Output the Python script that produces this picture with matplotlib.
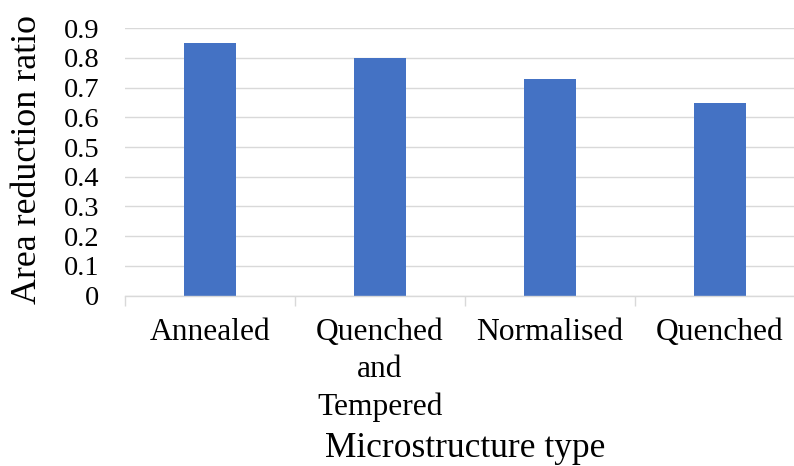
import matplotlib
matplotlib.use('Agg')
import matplotlib.pyplot as plt
from matplotlib.ticker import FixedLocator

# data
categories = ['Annealed', 'Quenched\nand\nTempered', 'Normalised', 'Quenched']
area_reduction = [0.85, 0.80, 0.73, 0.65]
y_ticks = [0, 0.1, 0.2, 0.3, 0.4, 0.5, 0.6, 0.7, 0.8, 0.9]
y_tick_labels = ['0', '0.1', '0.2', '0.3', '0.4', '0.5', '0.6', '0.7', '0.8', '0.9']

plt.rcParams['font.family'] = ['Liberation Serif', 'DejaVu Serif']

fig = plt.figure(figsize=(7.94, 4.66), dpi=100)
# plot area runs a bit past the right edge, like the cropped original
ax = fig.add_axes([125 / 794, 170.5 / 466, 680 / 794, 267.2 / 466])

positions = list(range(len(categories)))
ax.bar(positions, area_reduction, width=0.306, color='#4472C4', zorder=3)

ax.set_xlim(-0.5, len(categories) - 0.5)
ax.set_ylim(0, 0.9)

# grid and axis
ax.set_yticks(y_ticks)
ax.set_yticklabels(y_tick_labels)
ax.yaxis.grid(True, color='#D9D9D9', linewidth=1.0, zorder=0)
ax.set_axisbelow(True)
for side in ['top', 'right', 'left']:
    ax.spines[side].set_visible(False)
ax.spines['bottom'].set_color('#D9D9D9')
ax.spines['bottom'].set_linewidth(1.0)
ax.spines['bottom'].set_zorder(4)

ax.set_xticks(positions)
ax.set_xticklabels(categories, linespacing=1.36)
ax.xaxis.set_minor_locator(FixedLocator([p - 0.5 for p in positions] + [len(categories) - 0.5]))
ax.tick_params(axis='x', which='major', length=0, pad=16.5, labelsize=22.7, colors='black')
ax.tick_params(axis='x', which='minor', length=7, width=1.0, color='#D9D9D9', direction='out')
ax.tick_params(axis='y', length=0, pad=18.5, labelsize=20.5)

# axis titles
fig.text(465 / 794, 1 - 457 / 466, 'Microstructure type', fontsize=25.5,
         ha='center', va='baseline')
fig.text(27 / 794, 1 - 160 / 466, 'Area reduction ratio', rotation=90, fontsize=25.8,
         ha='center', va='center')

fig.savefig('out.png', dpi=100)
